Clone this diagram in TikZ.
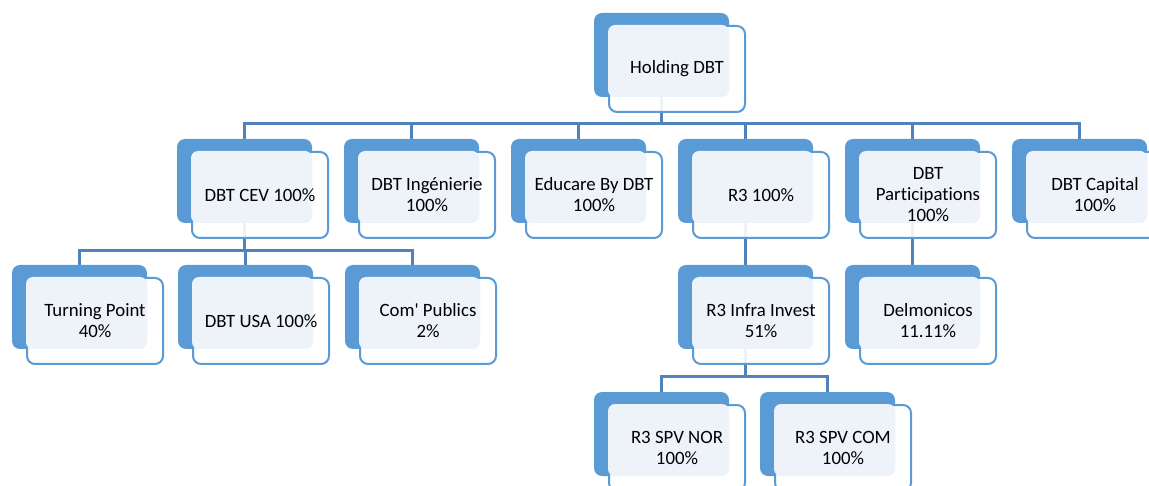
\documentclass[tikz,border=0pt]{standalone}
\usepackage{fontspec}
\setmainfont{Carlito}[Ligatures={NoCommon,TeXOff}]
\pgfdeclarelayer{bg}
\pgfdeclarelayer{paper}
\pgfsetlayers{paper,bg,main}
\definecolor{backc}{HTML}{5B9BD5}
\definecolor{lightc}{HTML}{EEF3FA}
\definecolor{connc}{HTML}{5082BE}
\tikzset{
  backbox/.style={fill=backc, rounded corners=8pt, minimum width=135pt, minimum height=84pt, inner sep=0pt, outer sep=0pt, anchor=north west},
  frontbox/.style={draw=backc, line width=2pt, fill=white, fill opacity=0.9, rounded corners=8pt, minimum width=136pt, minimum height=86pt, inner sep=0pt, outer sep=0pt, anchor=north west},
  lightbox/.style={fill=lightc, rounded corners=7pt, minimum width=121pt, minimum height=72pt, inner sep=0pt, outer sep=0pt, anchor=north west},
  txt/.style={font=\fontsize{18.8pt}{21pt}\selectfont, align=center, text=black, inner sep=0pt},
  conn/.style={draw=connc, line width=3pt}
}
\newcommand\orgbox[4]{%
  \node[backbox] (#1) at (#2,#3) {};
  \node[frontbox] (#1-f) at (#2+15,#3+13) {};
  \node[lightbox] (#1-l) at (#2+14,#3+12) {};
  \node[txt] (#1-t) at (#1-f.center) {#4};
}
\begin{document}
\begin{tikzpicture}[x=1pt,y=-1pt]
\useasboundingbox (0,0) rectangle (1149,486);
\clip (0,0) rectangle (1149,486);
\begin{pgfonlayer}{paper}
\fill[white] (0,0) rectangle (1149,486);
\end{pgfonlayer}
% level 1
\orgbox{hold}{594}{13}{Holding DBT}
% level 2
\orgbox{cev}{177}{139}{DBT CEV 100\%}
\orgbox{ing}{344}{139}{DBT Ingénierie\\100\%}
\orgbox{edu}{511}{139}{Educare By DBT\\100\%}
\orgbox{rthree}{678}{139}{R3 100\%}
\orgbox{part}{845}{139}{DBT\\Participations\\100\%}
\orgbox{cap}{1012}{139}{DBT Capital\\100\%}
% level 3
\orgbox{turn}{12}{265}{Turning Point\\40\%}
\orgbox{usa}{178}{265}{DBT USA 100\%}
\orgbox{com}{345}{265}{Com' Publics\\2\%}
\orgbox{infra}{678}{265}{R3 Infra Invest\\51\%}
\orgbox{delm}{845}{265}{Delmonicos\\11.11\%}
% level 4
\orgbox{nor}{594}{392}{R3 SPV NOR\\100\%}
\orgbox{spvcom}{760}{392}{R3 SPV COM\\100\%}
% connectors
\coordinate (busa) at (0,124);
\coordinate (busb) at (0,251);
\coordinate (busc) at (0,377);
\begin{pgfonlayer}{bg}
\foreach \c in {cev,ing,edu,rthree,part,cap}
  \draw[conn] (hold.south) |- (busa -| \c.north) -- (\c.north);
\foreach \c in {turn,usa,com}
  \draw[conn] (cev.south) |- (busb -| \c.north) -- (\c.north);
\draw[conn] (rthree.south) -- (infra.north);
\draw[conn] (part.south) -- (delm.north);
\foreach \c in {nor,spvcom}
  \draw[conn] (infra.south) |- (busc -| \c.north) -- (\c.north);
\end{pgfonlayer}
\end{tikzpicture}
\end{document}
